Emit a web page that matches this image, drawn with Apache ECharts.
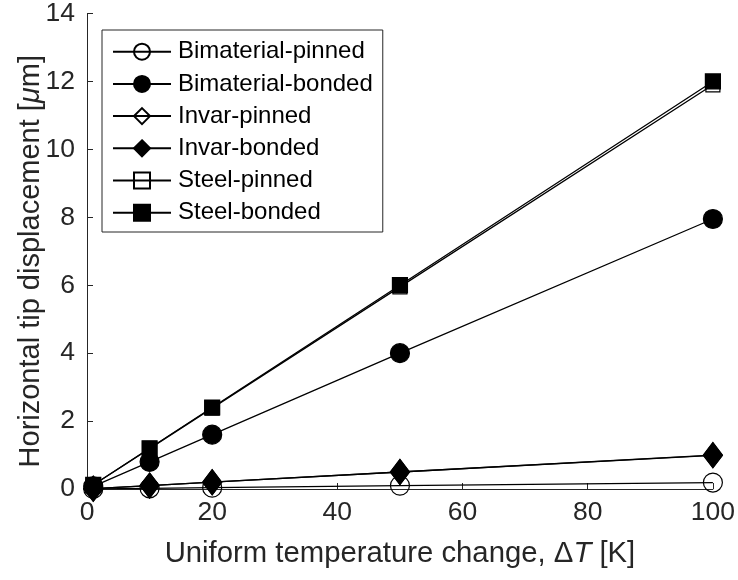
<!DOCTYPE html>
<html>
<head>
<meta charset="utf-8">
<script src="https://cdn.jsdelivr.net/npm/echarts@6/dist/echarts.min.js"></script>
<style>html,body{margin:0;padding:0;background:#fff}#c{width:738px;height:580px}</style>
</head>
<body>
<div id="c"></div>
<script>
const deltaT = [1, 10, 20, 50, 100];
const bimaterialPinned = [0.002, 0.02, 0.04, 0.1, 0.19];
const bimaterialBonded = [0.08, 0.8, 1.6, 4.0, 7.95];
const invarPinned = [0.01, 0.1, 0.2, 0.5, 0.99];
const invarBonded = [0.01, 0.1, 0.2, 0.5, 1.0];
const steelPinned = [0.12, 1.19, 2.38, 5.95, 11.9];
const steelBonded = [0.12, 1.2, 2.4, 6.0, 12.0];
const xTicks = [0, 20, 40, 60, 80, 100];
const yTicks = [0, 2, 4, 6, 8, 10, 12, 14];

const txt = '#262626';
const font = 'Liberation Sans, Arial, Helvetica, sans-serif';

function pairs(v) { return deltaT.map((t, i) => [t, v[i]]); }

function mk(name, vals, symbol, size, filled) {
  return {
    name: name,
    type: 'line',
    data: pairs(vals),
    symbol: symbol,
    symbolSize: size,
    showAllSymbol: true,
    lineStyle: { color: '#000', width: 1.3 },
    itemStyle: { color: filled ? '#000' : 'rgba(0,0,0,0)', borderColor: '#000', borderWidth: 1.2 },
    emphasis: { disabled: true },
    animation: false
  };
}

const chart = echarts.init(document.getElementById('c'), null, { renderer: 'canvas' });
chart.setOption({
  backgroundColor: '#fff',
  animation: false,
  textStyle: { fontFamily: font, color: txt },
  grid: { left: 87, right: 23, top: 12, bottom: 91, containLabel: false },
  legend: {
    orient: 'vertical',
    left: 102,
    top: 30,
    backgroundColor: '#fff',
    borderColor: txt,
    borderWidth: 1,
    padding: [9.7, 10, 7.3, 10],
    itemWidth: 58,
    itemHeight: 20,
    itemGap: 8.2,
    textStyle: { fontFamily: font, fontSize: 24, color: '#000', padding: [0, 0, 0, 2] },
    data: ['Bimaterial-pinned', 'Bimaterial-bonded', 'Invar-pinned', 'Invar-bonded', 'Steel-pinned', 'Steel-bonded']
  },
  xAxis: {
    type: 'value',
    min: 0, max: 100, interval: 20,
    name: '{n|Uniform temperature change, Δ}{i|T}{n| [K]}',
    nameLocation: 'middle',
    nameGap: 50,
    nameTextStyle: {
      rich: {
        n: { fontFamily: font, fontSize: 29.3, color: txt },
        i: { fontFamily: font, fontSize: 29.3, color: txt, fontStyle: 'italic' }
      }
    },
    axisLine: { show: true, onZero: false, lineStyle: { color: txt, width: 1 } },
    axisTick: { show: true, inside: true, length: 6, lineStyle: { color: txt } },
    axisLabel: { fontSize: 26.5, color: txt, margin: 10, fontFamily: font,
      customValues: xTicks },
    splitLine: { show: false }
  },
  yAxis: {
    type: 'value',
    min: 0, max: 14, interval: 2,
    name: '{n|Horizontal tip displacement [}{i|μ}{n|m]}',
    nameLocation: 'middle',
    nameGap: 42,
    nameMoveOverlap: false,
    nameRotate: 90,
    nameTextStyle: {
      padding: [0, 20, 0, 0],
      rich: {
        n: { fontFamily: font, fontSize: 29, color: txt },
        i: { fontFamily: font, fontSize: 29, color: txt, fontStyle: 'italic' }
      }
    },
    axisLine: { show: true, onZero: false, lineStyle: { color: txt, width: 1 } },
    axisTick: { show: true, inside: true, length: 6, lineStyle: { color: txt } },
    axisLabel: { fontSize: 26.5, color: txt, margin: 12, fontFamily: font },
    splitLine: { show: false }
  },
  series: [
    mk('Bimaterial-pinned', bimaterialPinned, 'circle', 19, false),
    mk('Bimaterial-bonded', bimaterialBonded, 'circle', 19, true),
    mk('Invar-pinned', invarPinned, 'diamond', [19, 25], false),
    mk('Invar-bonded', invarBonded, 'diamond', [19, 25], true),
    mk('Steel-pinned', steelPinned, 'rect', 14, false),
    mk('Steel-bonded', steelBonded, 'rect', 15, true)
  ]
});
</script>
</body>
</html>
